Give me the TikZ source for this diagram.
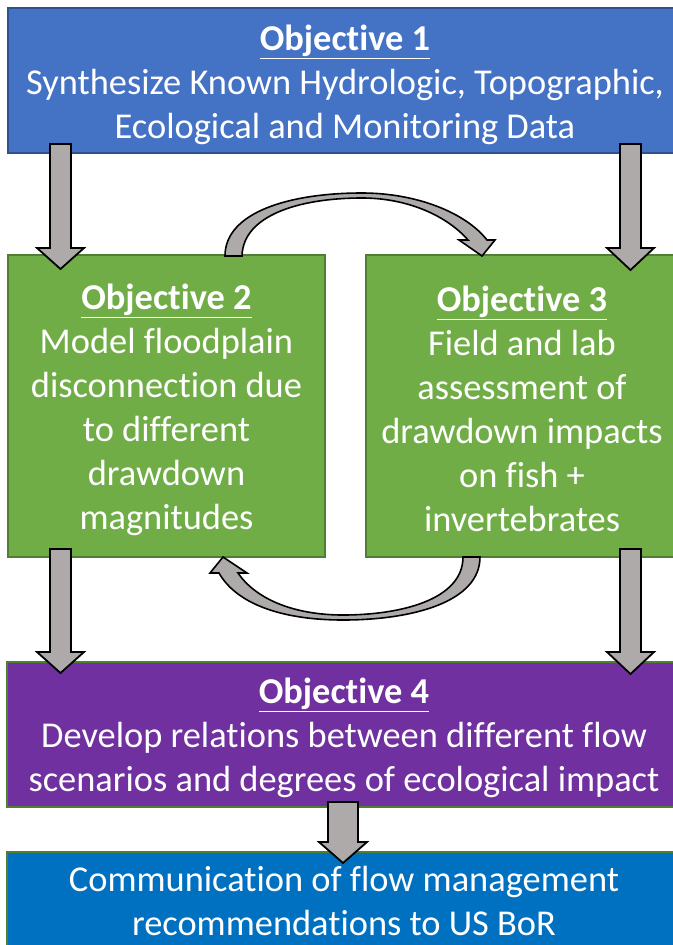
\documentclass[tikz,border=0pt]{standalone}
\usepackage{fontspec}
\setmainfont{Carlito}[Ligatures={NoCommon}]
\usetikzlibrary{calc}
\definecolor{bluefill}{HTML}{4472C4}
\definecolor{blueline}{HTML}{2F528F}
\definecolor{greenfill}{HTML}{70AD47}
\definecolor{greenline}{HTML}{507E32}
\definecolor{purplefill}{HTML}{7030A0}
\definecolor{darkblue}{HTML}{0070C0}
\definecolor{arrowgray}{HTML}{AEAAAA}
\tikzset{
  objbox/.style={draw=#1, line width=2pt, inner sep=0pt},
  objtext/.style={text=white, align=center, inner sep=0pt,
    font=\fontsize{36.4}{43.9}\selectfont},
  blockarrow/.style={fill=arrowgray, draw=black, line width=1.8pt, line join=miter},
}
\newcommand{\objtitle}[1]{\textbf{\underline{#1}}}
% block arrow: center x, top y, head start y, tip y, shaft half width, head half width
\newcommand{\barrow}[6]{%
  \draw[blockarrow] ({#1-#5},#2) -- ({#1+#5},#2) -- ({#1+#5},#3) -- ({#1+#6},#3)
    -- (#1,#4) -- ({#1-#6},#3) -- ({#1-#5},#3) -- cycle;}
\begin{document}
\begin{tikzpicture}[x=1pt,y=-1pt]
\useasboundingbox (0,0) rectangle (672,945);
\fill[white] (0,0) rectangle (672,945);

\node[objbox=blueline, fill=bluefill, minimum width=674pt, minimum height=145pt]
  (obj1) at (345,80.5) {};
\node[objtext] (obj1t) at (345,85)
  {\objtitle{Objective 1}\\Synthesize Known Hydrologic, Topographic,\\Ecological and Monitoring Data};

\node[objbox=greenline, fill=greenfill, minimum width=317pt, minimum height=302pt]
  (obj2) at (166.5,406) {};
\node[objtext] (obj2t) at (166.5,410)
  {\objtitle{Objective 2}\\Model floodplain\\disconnection due\\to different\\drawdown\\magnitudes};

\node[objbox=greenline, fill=greenfill, minimum width=312pt, minimum height=302pt]
  (obj3) at (522,406) {};
\node[objtext] (obj3t) at (522,409)
  {\objtitle{Objective 3}\\Field and lab\\assessment of\\drawdown impacts\\on fish +\\invertebrates};

\node[objbox=greenline, fill=purplefill, minimum width=674pt, minimum height=145pt]
  (obj4) at (344,734.5) {};
\node[objtext] (obj4t) at (344,738)
  {\objtitle{Objective 4}\\Develop relations between different flow\\scenarios and degrees of ecological impact};

\node[objbox=greenline, fill=darkblue, minimum width=674pt, minimum height=110pt]
  (comm) at (344,907) {};
\node[objtext] (commt) at (344,901)
  {Communication of flow management\\recommendations to US BoR};

% straight block arrows
\barrow{60.5}{144}{248}{269}{10.5}{23.5}
\barrow{630.5}{144}{248}{270}{10.5}{23.5}
\barrow{60.5}{549}{652}{673}{10.5}{23.5}
\barrow{630.5}{549}{652}{674}{10.5}{23.5}
\barrow{343}{802}{842}{863}{15}{24}

% curved arrow obj2 -> obj3 (top)
\draw[blockarrow, line width=1.6pt]
  (225,256) .. controls (225,212) and (290,193) .. (362,193)
  .. controls (417,193) and (466,213) .. (487,240)
  -- (495,240) -- (482,256) -- (459,240) -- (468,240)
  .. controls (447,216) and (408,198) .. (362,198)
  .. controls (300,198) and (243,215) .. (242,256) -- cycle;

% curved arrow obj3 -> obj2 (bottom)
\draw[blockarrow, line width=1.6pt]
  (480,557) .. controls (480,603) and (410,620) .. (343,620)
  .. controls (280,620) and (236,603) .. (219,573)
  -- (210,573) -- (223,557) -- (247,573) -- (238,573)
  .. controls (255,598) and (292,615) .. (343,615)
  .. controls (400,615) and (463,600) .. (463,557) -- cycle;
\end{tikzpicture}
\end{document}
